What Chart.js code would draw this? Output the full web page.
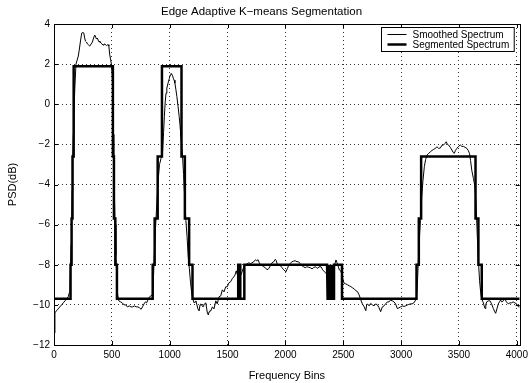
<!DOCTYPE html>
<html lang="en">
<head>
    <meta charset="UTF-8">
    <title>Edge Adaptive K-means Segmentation</title>
    <script src="https://cdn.jsdelivr.net/npm/chart.js"></script>
    <style>
        html, body { margin: 0; padding: 0; background: #fff; }
        #box { width: 532px; height: 383px; }
    </style>
</head>
<body>
<div id="box"><canvas id="grafico"></canvas></div>

<script>
    // smoothed spectrum (thin line)
    var smoothBins = [0, 8, 20, 37, 50, 66, 80, 95, 110, 123, 132, 138, 143, 148, 152, 157, 162, 167, 172, 180, 190, 200, 210, 218, 230, 240, 250, 258, 265, 272, 281, 290, 300, 309, 320, 332, 342, 352, 360, 367, 375, 381, 390, 395, 405, 415, 424, 432, 440, 453, 460, 467, 474, 481, 490, 496, 503, 509, 513, 517, 522, 528, 535, 542, 550, 560, 575, 590, 605, 620, 635, 650, 665, 680, 695, 710, 725, 740, 753, 765, 778, 790, 800, 812, 825, 838, 848, 855, 862, 870, 880, 890, 900, 912, 925, 939, 947, 954, 961, 968, 975, 982, 990, 997, 1004, 1011, 1019, 1025, 1031, 1038, 1045, 1053, 1062, 1072, 1082, 1090, 1097, 1104, 1111, 1120, 1130, 1140, 1150, 1160, 1170, 1180, 1190, 1200, 1211, 1220, 1226, 1235, 1244, 1254, 1262, 1270, 1280, 1289, 1300, 1312, 1320, 1326, 1334, 1340, 1346, 1355, 1369, 1383, 1398, 1411, 1426, 1441, 1455, 1469, 1484, 1497, 1512, 1526, 1540, 1555, 1565, 1575, 1585, 1595, 1605, 1615, 1626, 1640, 1655, 1670, 1684, 1698, 1712, 1727, 1741, 1752, 1764, 1774, 1784, 1800, 1813, 1827, 1841, 1855, 1870, 1885, 1899, 1913, 1921, 1928, 1942, 1957, 1971, 1985, 2005, 2016, 2027, 2040, 2056, 2070, 2085, 2100, 2113, 2128, 2142, 2157, 2171, 2185, 2199, 2215, 2230, 2242, 2257, 2271, 2279, 2290, 2308, 2322, 2337, 2351, 2358, 2365, 2380, 2394, 2408, 2423, 2437, 2446, 2455, 2466, 2478, 2489, 2500, 2509, 2520, 2537, 2552, 2566, 2580, 2594, 2610, 2623, 2637, 2652, 2665, 2680, 2695, 2702, 2709, 2723, 2737, 2752, 2766, 2780, 2795, 2810, 2823, 2838, 2852, 2866, 2881, 2895, 2909, 2924, 2938, 2952, 2967, 2981, 2995, 3010, 3024, 3038, 3052, 3066, 3081, 3095, 3110, 3122, 3133, 3140, 3146, 3155, 3167, 3178, 3189, 3201, 3212, 3224, 3238, 3253, 3267, 3281, 3295, 3310, 3324, 3339, 3352, 3367, 3380, 3390, 3400, 3410, 3425, 3439, 3450, 3459, 3470, 3482, 3497, 3511, 3525, 3539, 3553, 3568, 3580, 3591, 3600, 3611, 3625, 3635, 3643, 3650, 3658, 3668, 3678, 3688, 3697, 3711, 3718, 3725, 3732, 3739, 3754, 3768, 3782, 3797, 3810, 3817, 3828, 3840, 3850, 3860, 3870, 3883, 3897, 3910, 3926, 3940, 3954, 3968, 3983, 3998, 4012, 4025];
    var smoothPsd = [-11.4, -10.4, -10.3, -10.2, -10.1, -10.0, -9.9, -9.8, -9.7, -9.6, -9.4, -9.0, -8.0, -7.0, -5.9, -4.3, -2.6, -1.5, -0.5, 0.8, 2.0, 2.2, 2.4, 2.7, 3.2, 3.55, 3.58, 3.55, 3.3, 3.15, 3.1, 3.0, 2.95, 2.9, 3.0, 3.1, 3.3, 3.45, 3.35, 3.25, 3.3, 3.2, 3.1, 3.15, 3.05, 3.0, 2.95, 3.0, 3.0, 2.92, 2.95, 2.97, 2.9, 2.5, 2.2, 2.0, 1.5, 0.5, -1.5, -2.8, -4.5, -6.0, -7.5, -8.6, -9.5, -9.8, -9.85, -9.9, -10.0, -10.0, -10.1, -10.05, -10.1, -10.1, -10.05, -10.1, -10.1, -10.15, -10.22, -10.1, -9.95, -9.85, -9.9, -9.75, -9.6, -9.55, -9.5, -9.2, -8.3, -7.0, -5.9, -4.8, -3.8, -3.0, -2.7, -2.3, -1.4, -0.6, 0.1, 0.55, 0.8, 0.96, 1.15, 1.29, 1.45, 1.54, 1.5, 1.42, 1.3, 1.2, 1.05, 0.75, 0.38, -0.1, -0.62, -1.1, -1.62, -2.1, -2.6, -3.5, -4.7, -5.8, -6.6, -7.6, -8.2, -8.9, -9.4, -9.7, -9.9, -9.85, -9.8, -10.0, -10.2, -10.3, -10.0, -9.95, -10.05, -10.1, -9.95, -9.9, -10.2, -10.42, -10.5, -10.35, -10.3, -10.3, -10.1, -10.2, -9.8, -9.95, -9.6, -9.55, -9.25, -9.35, -9.1, -9.1, -8.9, -8.85, -8.7, -8.6, -8.5, -8.3, -8.5, -8.4, -8.3, -8.5, -8.35, -8.1, -8.0, -7.95, -7.9, -7.95, -7.9, -7.85, -7.75, -7.8, -7.75, -7.9, -8.0, -8.05, -8.1, -8.15, -8.25, -8.2, -8.05, -7.9, -7.85, -7.73, -7.8, -7.95, -8.0, -8.05, -8.15, -8.25, -8.35, -8.2, -8.05, -7.95, -7.85, -7.82, -7.8, -7.85, -7.85, -7.95, -8.05, -8.1, -8.15, -8.1, -8.12, -8.15, -8.2, -8.15, -8.1, -8.15, -8.18, -8.1, -8.1, -8.25, -8.35, -8.43, -8.3, -8.15, -8.15, -8.18, -8.15, -8.05, -7.76, -7.9, -8.05, -8.26, -8.3, -8.5, -8.8, -8.93, -8.95, -9.0, -9.05, -9.09, -9.15, -9.2, -9.3, -9.34, -9.5, -9.76, -9.95, -10.09, -10.29, -10.0, -9.95, -10.05, -9.93, -10.0, -10.05, -9.95, -10.0, -10.15, -10.34, -10.1, -10.05, -9.95, -9.85, -9.85, -9.76, -9.8, -9.85, -9.95, -10.18, -10.15, -10.1, -10.05, -10.08, -10.05, -10.01, -9.98, -9.95, -9.95, -9.9, -9.8, -9.6, -9.0, -8.2, -7.0, -5.8, -4.6, -3.8, -3.1, -2.75, -2.53, -2.45, -2.37, -2.3, -2.25, -2.2, -2.12, -2.2, -2.18, -2.05, -2.03, -1.95, -1.87, -2.0, -2.03, -2.15, -2.28, -2.4, -2.45, -2.3, -2.2, -2.1, -2.03, -2.1, -2.1, -2.15, -2.2, -2.3, -2.45, -2.8, -3.3, -3.7, -4.0, -4.5, -5.3, -6.5, -7.8, -8.8, -9.4, -9.7, -9.9, -10.05, -10.18, -10.0, -9.85, -9.8, -9.8, -9.95, -10.18, -10.35, -10.42, -10.2, -9.95, -9.85, -9.76, -9.85, -9.8, -9.7, -9.85, -9.95, -9.9, -9.9, -9.85, -9.9, -9.95, -10.09, -10.1];

    // segmented spectrum (thick line) - step corners, one band per line
    var segBins = [
        0, 143, 143, 152, 152, 160, 160, 170, 170, 509, 509, 518, 518, 530, 530, 544, 544,
        853, 853, 870, 870, 896, 896, 933, 933, 1102, 1102, 1131, 1131, 1168, 1168, 1197, 1197,
        1592, 1592, 1610, 1610, 1645, 1645,
        2360, 2360, 2364, 2364, 2368, 2368, 2372, 2372, 2376, 2376, 2380, 2380, 2384, 2384, 2388, 2388,
        2392, 2392, 2396, 2396, 2400, 2400, 2404, 2404, 2408, 2408, 2412, 2412, 2416, 2416, 2420, 2420,
        2489, 2489,
        3133, 3133, 3153, 3153, 3173, 3173, 3643, 3643, 3668, 3668, 3697, 3697, 4025
    ];
    var segPsd = [
        -9.7, -9.7, -8, -8, -5.7, -5.7, -2.6, -2.6, 1.9, 1.9, -2.6, -2.6, -5.7, -5.7, -8, -8, -9.7,
        -9.7, -8, -8, -5.7, -5.7, -2.6, -2.6, 1.9, 1.9, -2.6, -2.6, -5.7, -5.7, -8, -8, -9.7,
        -9.7, -8, -8, -9.7, -9.7, -8,
        -8, -9.7, -9.7, -8, -8, -9.7, -9.7, -8, -8, -9.7, -9.7, -8, -8, -9.7, -9.7, -8,
        -8, -9.7, -9.7, -8, -8, -9.7, -9.7, -8, -8, -9.7, -9.7, -8, -8, -9.7, -9.7, -8,
        -8, -9.7,
        -9.7, -8, -8, -5.7, -5.7, -2.6, -2.6, -5.7, -5.7, -8, -8, -9.7, -9.7
    ];

    var xTicks = [0, 500, 1000, 1500, 2000, 2500, 3000, 3500, 4000];
    var yTicks = [-12, -10, -8, -6, -4, -2, 0, 2, 4];

    var fonte = 'Helvetica, "Liberation Sans", Arial, sans-serif';

    function pontos(xs, ys) {
        var lista = [];
        for (var i = 0; i < xs.length; i++) {
            lista.push({ x: xs[i], y: ys[i] });
        }
        return lista;
    }

    // box around the axes + inward ticks, like matlab
    var moldura = {
        id: 'moldura',
        afterDatasetsDraw: function (chart) {
            var ctx = chart.ctx;
            var a = chart.chartArea;
            var sx = chart.scales.x;
            var sy = chart.scales.y;
            ctx.save();
            ctx.strokeStyle = '#000';
            ctx.lineWidth = 1;
            ctx.strokeRect(Math.round(a.left) + 0.5, Math.round(a.top) + 0.5, Math.round(a.right - a.left), Math.round(a.bottom - a.top));
            ctx.beginPath();
            xTicks.forEach(function (v) {
                var px = Math.round(sx.getPixelForValue(v)) + 0.5;
                ctx.moveTo(px, a.bottom); ctx.lineTo(px, a.bottom - 4);
                ctx.moveTo(px, a.top); ctx.lineTo(px, a.top + 4);
            });
            yTicks.forEach(function (v) {
                var py = Math.round(sy.getPixelForValue(v)) + 0.5;
                ctx.moveTo(a.left, py); ctx.lineTo(a.left + 4, py);
                ctx.moveTo(a.right, py); ctx.lineTo(a.right - 4, py);
            });
            ctx.stroke();
            ctx.restore();
        },
        afterDraw: function (chart) {
            // legend box inside the plot, top right
            var ctx = chart.ctx;
            var a = chart.chartArea;
            var sets = chart.data.datasets;
            ctx.save();
            ctx.font = '10px ' + fonte;
            var largura = 0;
            sets.forEach(function (d) { largura = Math.max(largura, ctx.measureText(d.label).width); });
            var w = 31 + largura + 5;
            var h = 24;
            var x0 = Math.round(a.right - 6 - w) + 0.5;
            var y0 = Math.round(a.top + 3) + 0.5;
            ctx.fillStyle = '#fff';
            ctx.fillRect(x0, y0, w, h);
            ctx.strokeStyle = '#000';
            ctx.lineWidth = 1;
            ctx.strokeRect(x0, y0, w, h);
            ctx.textBaseline = 'middle';
            ctx.fillStyle = '#000';
            sets.forEach(function (d, i) {
                var yy = y0 + 7 + i * 10;
                ctx.beginPath();
                ctx.lineWidth = d.borderWidth;
                ctx.moveTo(x0 + 6, yy);
                ctx.lineTo(x0 + 25, yy);
                ctx.stroke();
                ctx.fillText(d.label, x0 + 31, yy + 0.5);
            });
            ctx.restore();
        }
    };

    var dados = {
        datasets: [{
            label: 'Smoothed Spectrum',
            data: pontos(smoothBins, smoothPsd),
            borderColor: '#000',
            borderWidth: 1,
            pointRadius: 0,
            tension: 0
        },
        {
            label: 'Segmented Spectrum',
            data: pontos(segBins, segPsd),
            borderColor: '#000',
            borderWidth: 2.5,
            pointRadius: 0,
            tension: 0,
            borderJoinStyle: 'miter'
        }]
    };

    var config = {
        type: 'line',
        data: dados,
        plugins: [moldura],
        options: {
            responsive: true,
            maintainAspectRatio: false,
            animation: false,
            layout: { padding: { left: 0, right: 9, top: 0, bottom: 0 } },
            plugins: {
                legend: { display: false },
                tooltip: { enabled: false },
                title: {
                    display: true,
                    text: 'Edge Adaptive K\u2212means Segmentation',
                    color: '#000',
                    font: { family: fonte, size: 11.5, weight: 'normal' },
                    padding: { top: 5, bottom: 5.2 }
                }
            },
            scales: {
                x: {
                    type: 'linear',
                    min: 0,
                    max: 4025,
                    afterBuildTicks: function (s) { s.ticks = xTicks.map(function (v) { return { value: v }; }); },
                    afterFit: function (s) { s.height = 38; },
                    grid: { color: '#333', lineWidth: 1, drawTicks: false },
                    border: { display: false, dash: [1, 3] },
                    ticks: {
                        color: '#000', font: { family: fonte, size: 10 }, padding: 4, maxRotation: 0, autoSkip: false,
                        callback: function (v) { return String(v); }
                    },
                    title: { display: true, text: 'Frequency Bins', color: '#000', font: { family: fonte, size: 11 }, padding: { top: 4, bottom: 0 } }
                },
                y: {
                    type: 'linear',
                    min: -12,
                    max: 4,
                    afterBuildTicks: function (s) { s.ticks = yTicks.map(function (v) { return { value: v }; }); },
                    afterFit: function (s) { s.width = 54; },
                    grid: { color: '#333', lineWidth: 1, drawTicks: false },
                    border: { display: false, dash: [1, 3] },
                    ticks: {
                        color: '#000', font: { family: fonte, size: 10 }, padding: 4, autoSkip: false,
                        callback: function (v) { return v < 0 ? '\u2212' + Math.abs(v) : String(v); }
                    },
                    title: { display: true, text: 'PSD(dB)', color: '#000', font: { family: fonte, size: 11 }, padding: { top: 6, bottom: 0 } }
                }
            }
        }
    };

    var meuGrafico = new Chart(document.getElementById('grafico'), config);
</script>
</body>
</html>
